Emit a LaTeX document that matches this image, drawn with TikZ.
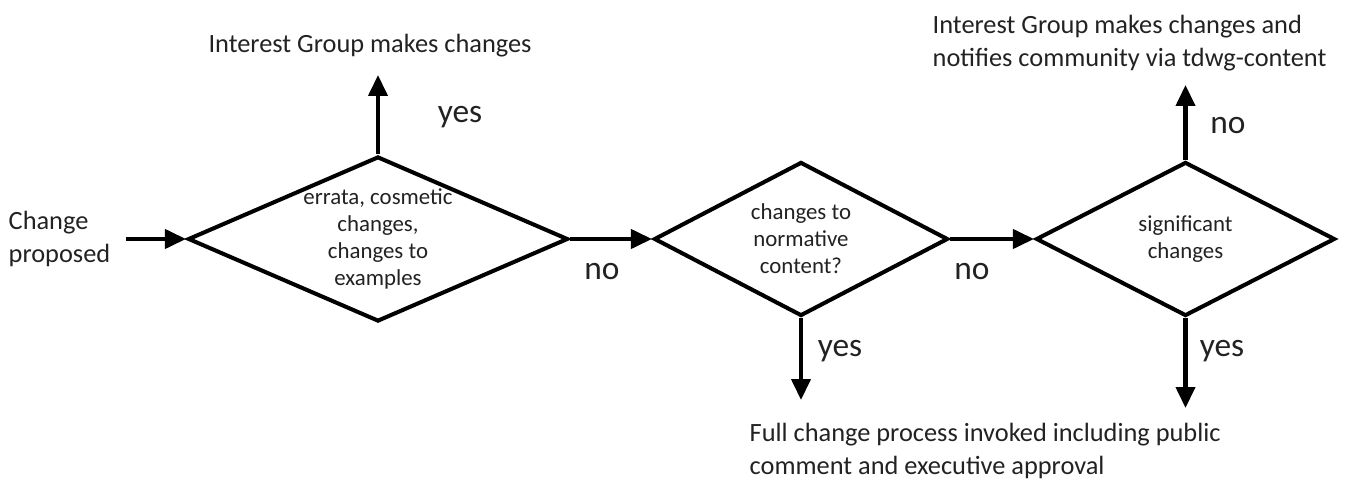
\documentclass[tikz,border=0pt]{standalone}
\usepackage{fontspec}
\setmainfont{Carlito}
\usetikzlibrary{arrows.meta,shapes.geometric}
\definecolor{cpink}{HTML}{000000}
\definecolor{cptext}{HTML}{222222}
\tikzset{
  cp text/.style={font=\fontsize{15}{18.5}\selectfont, text=cptext},
  cp note/.style={cp text, align=left},
  cp decision/.style={diamond, draw=cpink, line width=2.3pt, inner sep=0pt, fill=white},
  cp inner/.style={font=\fontsize{13}{15.4}\selectfont, text=cptext, align=center},
  cp answer/.style={font=\fontsize{19}{22}\selectfont, text=cptext},
  cp arrow/.style={-{Triangle[length=4.2mm,width=3.8mm]}, line width=2.3pt, draw=cpink}
}

\begin{document}
\begin{tikzpicture}[x=1cm, y=1cm]
  \useasboundingbox (0,-4.86) rectangle (27.16,4.78);
  \node[cp decision, minimum width=7.6cm, minimum height=3.3cm,
    label={[cp inner]center:{errata, cosmetic\\changes,\\changes to\\examples}}] (errata) at (7.56,0) {};
  \node[cp decision, minimum width=5.88cm, minimum height=3.08cm,
    label={[cp inner]center:{changes to\\normative\\content?}}] (normative) at (16.02,0) {};
  \node[cp decision, minimum width=5.98cm, minimum height=3.08cm,
    label={[cp inner]center:{significant\\changes}}] (significant) at (23.71,0) {};
  \node[cp note, anchor=west] (proposed) at (0.05,0) {Change\\proposed};
  \node[cp text] (igmakes) at (7.4,3.86) {Interest Group makes changes};
  \node[cp note, anchor=west] (ignotify) at (18.53,3.92) {Interest Group makes changes and\\notifies community via tdwg-content};
  \node[cp note, anchor=west] (fullproc) at (14.87,-4.24) {Full change process invoked including public\\comment and executive approval};
  \coordinate (errataup) at (7.56,3.28);
  \coordinate (normdown) at (16.02,-3.22);
  \coordinate (signup) at (23.71,3.08);
  \coordinate (signdown) at (23.71,-3.38);
  \draw[cp arrow, shorten <=0.2cm] (proposed.east) -- (errata.west);
  \draw[cp arrow] (errata.east) -- (normative.west);
  \draw[cp arrow] (normative.east) -- (significant.west);
  \draw[cp arrow] (errata.north) -- (errataup);
  \draw[cp arrow] (normative.south) -- (normdown);
  \draw[cp arrow] (significant.north) -- (signup);
  \draw[cp arrow] (significant.south) -- (signdown);
  \foreach \x/\y/\t/\n in {9.2/2.44/yes/a,12.04/-0.66/no/b,16.8/-2.24/yes/c,19.44/-0.66/no/d,24.56/2.26/no/e,24.44/-2.24/yes/f} {
    \node[cp answer] (answer\n) at (\x,\y) {\t};
  }
\end{tikzpicture}
\end{document}
